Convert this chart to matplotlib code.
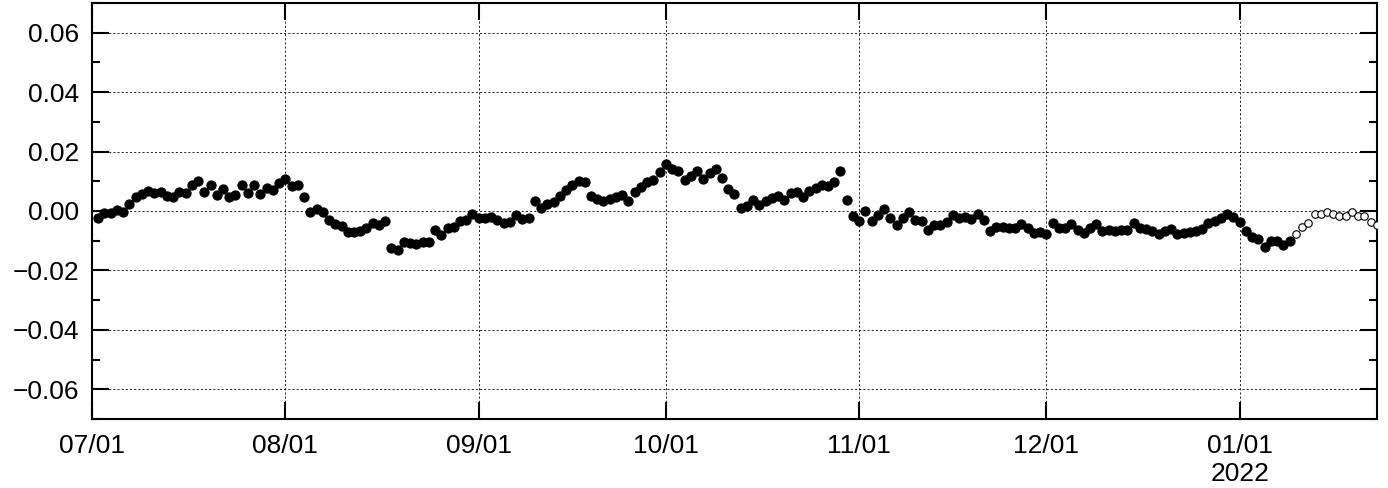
import numpy as np
import pandas as pd
import matplotlib
matplotlib.use('Agg')
import matplotlib.pyplot as plt
import matplotlib.dates as mdates
from matplotlib.ticker import MultipleLocator, FuncFormatter

plt.rcParams['font.family'] = ['Liberation Sans', 'DejaVu Sans']

# --- daily values, 2021-07-02 onwards ---
start_date = '2021-07-02'
observed = [
    -0.0025, -0.0008, -0.0006, 0.0005, -0.0005, 0.0025, 0.0048, 0.0057, 0.0067, 0.0059,
    0.0063, 0.0050, 0.0048, 0.0063, 0.0061, 0.0088, 0.0102, 0.0065, 0.0088, 0.0054,
    0.0073, 0.0046, 0.0054, 0.0087, 0.0059, 0.0087, 0.0056, 0.0078, 0.0070, 0.0093,
    0.0108, 0.0083, 0.0086, 0.0047, -0.0002, 0.0007, -0.0005, -0.0029, -0.0044, -0.0051,
    -0.0070, -0.0070, -0.0067, -0.0058, -0.0042, -0.0047, -0.0033, -0.0123, -0.0132, -0.0103,
    -0.0107, -0.0112, -0.0103, -0.0103, -0.0064, -0.0081, -0.0058, -0.0053, -0.0033, -0.0030,
    -0.0010, -0.0022, -0.0023, -0.0020, -0.0029, -0.0039, -0.0037, -0.0012, -0.0028, -0.0025,
    0.0035, 0.0009, 0.0024, 0.0031, 0.0051, 0.0069, 0.0088, 0.0102, 0.0097, 0.0051,
    0.0040, 0.0034, 0.0039, 0.0048, 0.0054, 0.0035, 0.0065, 0.0082, 0.0096, 0.0105,
    0.0130, 0.0157, 0.0141, 0.0136, 0.0105, 0.0118, 0.0135, 0.0108, 0.0127, 0.0141,
    0.0112, 0.0074, 0.0056, 0.0009, 0.0017, 0.0037, 0.0020, 0.0034, 0.0045, 0.0051,
    0.0037, 0.0060, 0.0063, 0.0048, 0.0067, 0.0079, 0.0088, 0.0084, 0.0097, 0.0135,
    0.0037, -0.0017, -0.0033, 0.0000, -0.0033, -0.0013, 0.0007, -0.0025, -0.0047, -0.0023,
    -0.0003, -0.0030, -0.0034, -0.0063, -0.0047, -0.0047, -0.0036, -0.0013, -0.0025, -0.0019,
    -0.0028, -0.0010, -0.0030, -0.0066, -0.0053, -0.0055, -0.0058, -0.0056, -0.0044, -0.0058,
    -0.0075, -0.0070, -0.0078, -0.0042, -0.0058, -0.0058, -0.0044, -0.0064, -0.0073, -0.0058,
    -0.0045, -0.0068, -0.0065, -0.0068, -0.0065, -0.0064, -0.0042, -0.0056, -0.0062, -0.0067,
    -0.0079, -0.0067, -0.0061, -0.0078, -0.0073, -0.0072, -0.0067, -0.0062, -0.0039, -0.0033,
    -0.0022, -0.0011, -0.0019, -0.0036, -0.0066, -0.0087, -0.0094, -0.0120, -0.0101, -0.0101,
    -0.0115, -0.0101,
]
# open markers: provisional values after 2022-01-10
provisional = [
    -0.0079, -0.0055, -0.0039, -0.0010, -0.0011, -0.0002, -0.0011, -0.0016, -0.0016, -0.0004,
    -0.0016, -0.0016, -0.0036, -0.0047,
]

dates = pd.date_range(start_date, periods=len(observed) + len(provisional), freq='D')
d_obs = dates[:len(observed)]
d_prov = dates[len(observed):]

fig = plt.figure(figsize=(13.88, 4.88), dpi=100)
ax = fig.add_axes([0.0663, 0.1414, 0.9257, 0.8525])

ax.plot(d_obs, observed, 'o', color='black', ms=6.6, mew=0.8, zorder=3)
ax.plot(d_prov, provisional, 'o', mfc='white', mec='black', ms=5.4, mew=0.8, zorder=3)

ax.set_xlim(pd.Timestamp('2021-07-01'), pd.Timestamp('2022-01-23'))
ax.set_ylim(-0.07, 0.07)

ax.yaxis.set_major_locator(MultipleLocator(0.02))
ax.yaxis.set_minor_locator(MultipleLocator(0.01))
ax.yaxis.set_major_formatter(FuncFormatter(lambda v, p: f'{v:.2f}'.replace('-', '\u2212')))

ax.xaxis.set_major_locator(mdates.MonthLocator())

def fmt_date(x, pos):
    d = mdates.num2date(x)
    s = d.strftime('%m/%d')
    if d.month == 1:
        s += '\n' + d.strftime('%Y')
    return s

ax.xaxis.set_major_formatter(FuncFormatter(fmt_date))

ax.tick_params(which='both', direction='in', top=True, right=True, width=1.5,
               labelsize=19, color='black')
ax.tick_params(which='major', length=12)
ax.tick_params(which='minor', length=6)
ax.tick_params(axis='x', pad=11)
ax.tick_params(axis='y', pad=9)

for sp in ax.spines.values():
    sp.set_linewidth(1.5)

ax.grid(True, which='major', color='black', lw=0.6, linestyle=(0, (2.5, 2.5)))

fig.savefig('out.png', dpi=100)
